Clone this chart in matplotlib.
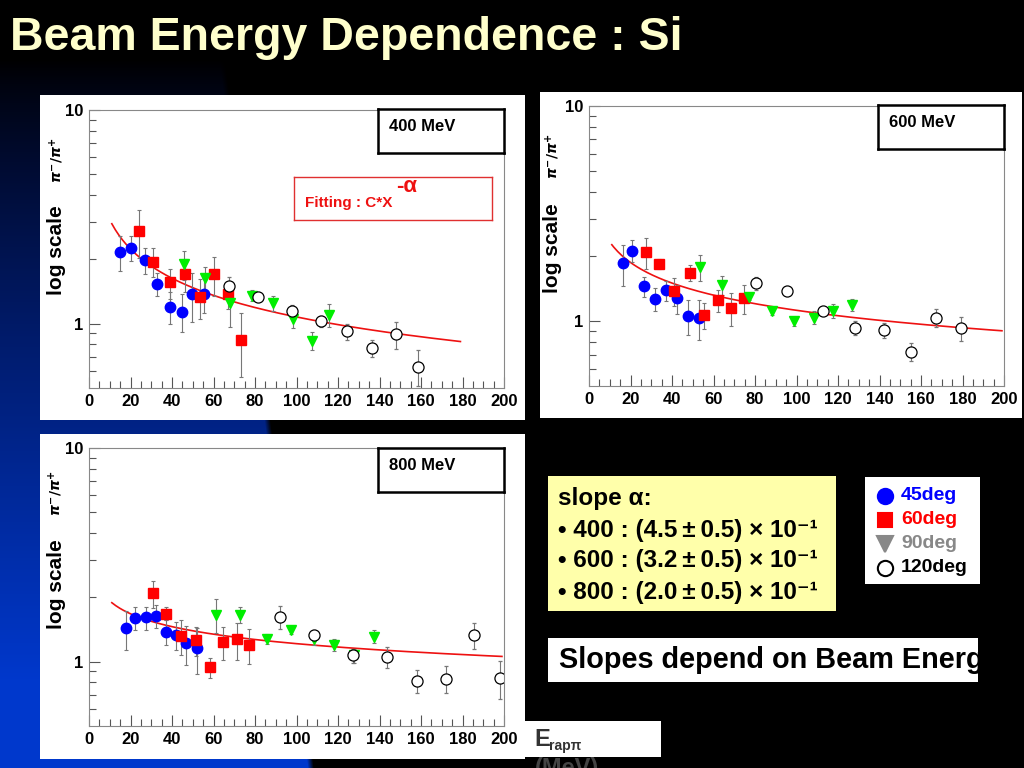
import numpy as np
import matplotlib
matplotlib.use("Agg")
import matplotlib.pyplot as plt
from matplotlib.ticker import FixedLocator, FixedFormatter, MultipleLocator, NullFormatter

plt.rcParams['font.family'] = ['Liberation Sans', 'DejaVu Sans']
plt.rcParams['font.weight'] = 'bold'
plt.rcParams['mathtext.fontset'] = 'dejavusans'

W, H = 1024, 768

# ---- data ----
panel_titles = ["400 MeV", "600 MeV", "800 MeV"]

x45_400 = [14.9, 20.2, 26.8, 32.8, 38.9, 44.7, 49.8, 55.6]
y45_400 = [2.17, 2.26, 1.98, 1.54, 1.20, 1.14, 1.37, 1.38]
e45_400 = [0.40, 0.30, 0.27, 0.19, 0.20, 0.23, 0.35, 0.26]
x60_400 = [24.3, 31.0, 39.0, 46.4, 53.5, 60.2, 67.0, 73.3]
y60_400 = [2.72, 1.95, 1.56, 1.71, 1.33, 1.70, 1.37, 0.84]
e60_400 = [0.70, 0.30, 0.25, 0.30, 0.28, 0.35, 0.20, 0.28]
x90_400 = [45.6, 55.9, 68.1, 78.7, 88.7, 98.3, 107.3, 115.8]
y90_400 = [1.90, 1.64, 1.25, 1.35, 1.25, 1.05, 0.83, 1.10]
e90_400 = [0.30, 0.20, 0.28, 0.08, 0.10, 0.10, 0.08, 0.13]
x120_400 = [67.6, 81.6, 97.8, 111.6, 124.3, 136.2, 147.9, 158.6]
y120_400 = [1.50, 1.34, 1.15, 1.03, 0.92, 0.77, 0.89, 0.63]
e120_400 = [0.15, 0.06, 0.07, 0.06, 0.08, 0.07, 0.13, 0.12]

x45_600 = [16.2, 20.7, 26.5, 32.0, 37.3, 42.6, 47.9, 53.0]
y45_600 = [1.86, 2.13, 1.45, 1.27, 1.39, 1.28, 1.06, 1.04]
e45_600 = [0.40, 0.25, 0.15, 0.15, 0.15, 0.20, 0.20, 0.22]
x60_600 = [27.5, 33.6, 41.1, 48.7, 55.4, 62.0, 68.4, 74.7]
y60_600 = [2.09, 1.85, 1.38, 1.68, 1.07, 1.25, 1.15, 1.28]
e60_600 = [0.35, 0.10, 0.20, 0.15, 0.15, 0.15, 0.20, 0.20]
x90_600 = [53.7, 64.3, 77.0, 88.4, 98.6, 108.3, 117.6, 126.8]
y90_600 = [1.78, 1.47, 1.30, 1.12, 1.00, 1.04, 1.12, 1.19]
e90_600 = [0.25, 0.15, 0.05, 0.05, 0.05, 0.07, 0.08, 0.08]
x120_600 = [80.5, 95.6, 112.9, 128.2, 142.0, 155.0, 167.4, 179.3]
y120_600 = [1.50, 1.38, 1.12, 0.93, 0.91, 0.72, 1.04, 0.93]
e120_600 = [0.10, 0.03, 0.05, 0.07, 0.07, 0.07, 0.10, 0.12]

x45_800 = [18.0, 22.2, 27.3, 32.1, 37.3, 42.1, 46.9, 52.0]
y45_800 = [1.43, 1.60, 1.61, 1.64, 1.38, 1.34, 1.22, 1.16]
e45_800 = [0.30, 0.20, 0.20, 0.20, 0.18, 0.20, 0.25, 0.28]
x60_800 = [31.0, 36.9, 44.5, 51.4, 58.3, 64.6, 71.2, 77.1]
y60_800 = [2.09, 1.68, 1.32, 1.26, 0.94, 1.24, 1.27, 1.20]
e60_800 = [0.30, 0.12, 0.25, 0.20, 0.10, 0.22, 0.25, 0.22]
x90_800 = [61.4, 72.6, 85.6, 97.2, 108.3, 118.1, 127.7, 137.3]
y90_800 = [1.66, 1.66, 1.28, 1.41, 1.28, 1.20, 1.07, 1.31]
e90_800 = [0.30, 0.15, 0.07, 0.06, 0.08, 0.08, 0.08, 0.09]
x120_800 = [92.2, 108.4, 127.2, 143.5, 158.2, 172.0, 185.4, 197.9]
y120_800 = [1.62, 1.33, 1.07, 1.05, 0.81, 0.83, 1.33, 0.84]
e120_800 = [0.20, 0.08, 0.08, 0.12, 0.10, 0.12, 0.18, 0.17]

# fit C * x^-alpha
fit_c = [8.74, 4.86, 3.05]
fit_alpha = [0.455, 0.318, 0.20]
fit_xmin = [11, 11, 11]
fit_xmax = [179, 199, 199]

slope_lines = ["slope \u03b1:",
               "\u2022 400 : (4.5\u2009\u00b1\u20090.5) \u00d7 10\u207b\u00b9",
               "\u2022 600 : (3.2\u2009\u00b1\u20090.5) \u00d7 10\u207b\u00b9",
               "\u2022 800 : (2.0\u2009\u00b1\u20090.5) \u00d7 10\u207b\u00b9"]
legend_labels = ["45deg", "60deg", "90deg", "120deg"]


def box(x0, y0, x1, y1):
    return [x0 / W, 1 - y1 / H, (x1 - x0) / W, (y1 - y0) / H]


def blank(ax, fc):
    ax.set_facecolor(fc)
    ax.set_xticks([])
    ax.set_yticks([])
    ax.set_xlim(0, 1)
    ax.set_ylim(0, 1)
    for s in ax.spines.values():
        s.set_visible(False)


fig = plt.figure(figsize=(W / 100, H / 100), dpi=100)
fig.patch.set_facecolor('black')

# slide background: black with blue wedge at lower left
yy, xx = np.mgrid[0:H, 0:W]
t = np.clip((yy - 60) / 620.0, 0, 1)
edge = 270 + (yy - 420) * 0.125
m = np.clip((edge - xx) / 6.0, 0, 1)
bg = np.zeros((H, W, 3))
bg[..., 1] = 0.22 * t ** 0.9 * m
bg[..., 2] = 0.80 * t ** 0.8 * m
ax_bg = fig.add_axes([0, 0, 1, 1], zorder=0)
ax_bg.imshow(bg, aspect='auto', extent=[0, W, H, 0])
ax_bg.axis('off')

fig.text(10 / W, 1 - 50 / H, "Beam Energy Dependence : Si", color='#ffffcc',
         fontsize=33.5, va='baseline', ha='left')

panel_white = [(40, 95, 525, 420), (540, 92, 1022, 418), (40, 434, 525, 759)]
panel_axes = [(89, 110, 504, 388), (589, 106, 1004, 386), (89, 448, 504, 726)]
label_boxes = [(378, 109, 504, 153), (878, 105, 1004, 149), (378, 448, 504, 492)]
ylab_x = [57, 553, 56]
ylab_y = [250, 248, 584]
pilab_y = [160, 156, 493]

series = [
    [(x45_400, y45_400, e45_400), (x60_400, y60_400, e60_400),
     (x90_400, y90_400, e90_400), (x120_400, y120_400, e120_400)],
    [(x45_600, y45_600, e45_600), (x60_600, y60_600, e60_600),
     (x90_600, y90_600, e90_600), (x120_600, y120_600, e120_600)],
    [(x45_800, y45_800, e45_800), (x60_800, y60_800, e60_800),
     (x90_800, y90_800, e90_800), (x120_800, y120_800, e120_800)],
]
styles = [
    dict(fmt='o', ms=7.5, mfc='#0000ff', mec='#0000ff'),
    dict(fmt='s', ms=7, mfc='#ff0000', mec='#ff0000'),
    dict(fmt='v', ms=7.5, mfc='#00ee00', mec='#00ee00'),
    dict(fmt='o', ms=8, mfc='white', mec='black', mew=0.9),
]

for i in range(3):
    ax_w = fig.add_axes(box(*panel_white[i]), zorder=1)
    blank(ax_w, 'white')

    ax = fig.add_axes(box(*panel_axes[i]), zorder=2)
    ax.set_facecolor('none')
    ax.set_yscale('log')
    ax.set_xlim(0, 200)
    ax.set_ylim(0.5, 10)
    for k, (sx, sy, se) in enumerate(series[i]):
        ax.errorbar(sx, sy, yerr=se, ecolor='#777777', elinewidth=0.8,
                    capsize=1.5, capthick=0.8, **styles[k])
    xf = np.linspace(fit_xmin[i], fit_xmax[i], 200)
    ax.plot(xf, fit_c[i] * xf ** (-fit_alpha[i]), color='#ee1111', lw=1.2, zorder=1)

    ax.xaxis.set_major_locator(MultipleLocator(20))
    ax.xaxis.set_minor_locator(MultipleLocator(5))
    ax.yaxis.set_major_locator(FixedLocator([1, 10]))
    ax.yaxis.set_major_formatter(FixedFormatter(['1', '10']))
    ax.yaxis.set_minor_locator(FixedLocator([0.6, 0.7, 0.8, 0.9, 2, 3, 4, 5, 6, 7, 8, 9]))
    ax.yaxis.set_minor_formatter(NullFormatter())
    ax.tick_params(which='both', direction='in', top=False, right=False,
                   colors='#555555', labelcolor='black', labelsize=12, width=0.8)
    ax.tick_params(which='major', length=8, pad=4)
    ax.tick_params(which='minor', length=5)
    for s in ax.spines.values():
        s.set_color('#888888')
        s.set_linewidth(0.8)

    fig.text(ylab_x[i] / W, 1 - ylab_y[i] / H, "log scale", rotation=90,
             fontsize=15, ha='center', va='center', color='black', zorder=5)
    fig.text(ylab_x[i] / W, 1 - pilab_y[i] / H, r"$\pi^{-}/\pi^{+}$", rotation=90,
             fontsize=10, ha='center', va='center', color='black', zorder=5)

    ax_l = fig.add_axes(box(*label_boxes[i]), zorder=3)
    blank(ax_l, 'white')
    for s in ax_l.spines.values():
        s.set_visible(True)
        s.set_linewidth(1.8)
        s.set_color('black')
    ax_l.text(11 / 126, 0.6, panel_titles[i], fontsize=12, va='center', ha='left')

# fitting formula box in the 400 MeV panel
ax_f = fig.add_axes(box(294, 177, 492, 220), zorder=3)
blank(ax_f, 'white')
for s in ax_f.spines.values():
    s.set_visible(True)
    s.set_linewidth(1.0)
    s.set_color('#e03030')
ax_f.text(11 / 198, 0.4, "Fitting : C*X", color='#ee1111', fontsize=11,
          va='center', ha='left')
ax_f.text(102 / 198, 0.78, "-\u03b1", color='#ee1111', fontsize=16,
          va='center', ha='left')

# slope box
ax_s = fig.add_axes(box(548, 476, 836, 611), zorder=3)
blank(ax_s, '#ffffaa')
for j, line in enumerate(slope_lines):
    ax_s.text(10 / 288, 1 - (23 + 31 * j) / 135, line, fontsize=17.5,
              va='center', ha='left', color='black')

# legend box
ax_g = fig.add_axes(box(865, 477, 980, 584), zorder=3)
blank(ax_g, 'white')
leg_colors = ['#0000ff', '#ff0000', '#888888', 'black']
leg_markers = ['o', 's', 'v', 'o']
leg_fill = ['#0000ff', '#ff0000', '#888888', 'white']
for j in range(4):
    yj = 1 - (19 + 24 * j) / 107
    ax_g.plot([20 / 115], [yj], marker=leg_markers[j], ms=11 if j != 1 else 10,
              mfc=leg_fill[j], mec=leg_colors[j], mew=1.5, ls='none')
    ax_g.text(36 / 115, yj, legend_labels[j], fontsize=14, color=leg_colors[j],
              va='center', ha='left')

# conclusion box (text is cut by the box edge)
ax_c = fig.add_axes(box(548, 638, 978, 682), zorder=3)
blank(ax_c, 'white')
tc = ax_c.text(11 / 430, 0.5, "Slopes depend on Beam Energy", fontsize=20.8,
               va='center', ha='left', color='black')
tc.set_clip_box(ax_c.bbox)

# x-axis title box
ax_e = fig.add_axes(box(525, 721, 661, 757), zorder=3)
blank(ax_e, 'white')
ax_e.text(9 / 136, 0.5, "E", fontsize=17, color='#333333', va='center', ha='left')
ax_e.text(24 / 136, 0.3, "rap\u03c0", fontsize=10, color='#333333', va='center', ha='left')
fig.text(535 / W, 1 - 757 / H, "(MeV)", fontsize=17, color='#444444',
         va='top', ha='left')

fig.savefig("out.png", dpi=100, facecolor='black')
